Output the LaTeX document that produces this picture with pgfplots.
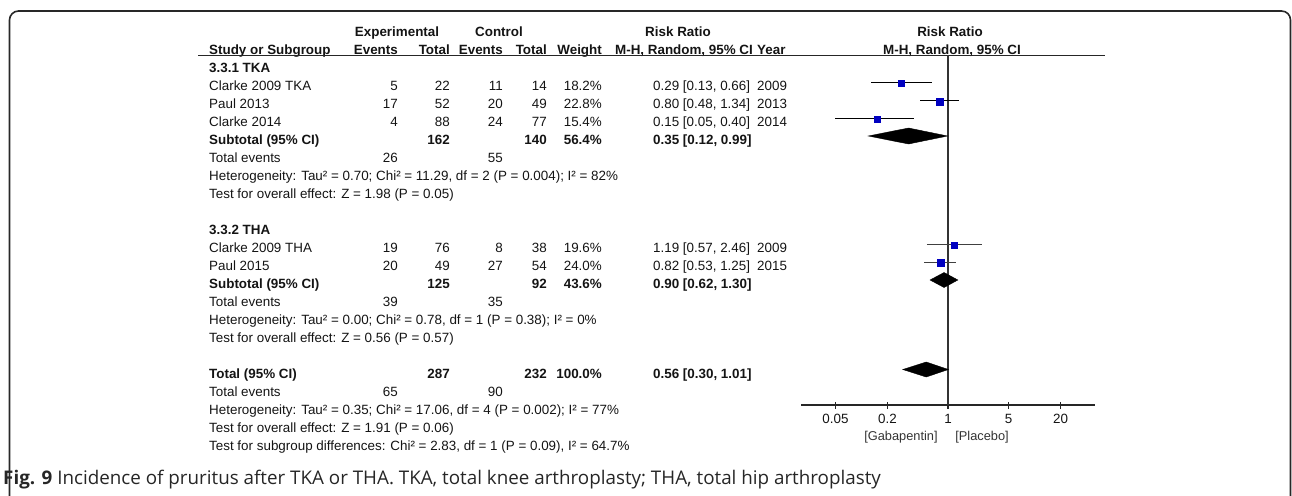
\documentclass[border=0pt]{standalone}
\usepackage{pgfplots}
\pgfplotsset{compat=1.18}
\usepackage{fontspec}
\setmainfont{Liberation Sans}
\newfontfamily\capfont{Open Sans}
\definecolor{sqblue}{RGB}{0,0,192}
\definecolor{framec}{RGB}{40,40,40}
\definecolor{txt}{RGB}{20,20,20}
\newcommand{\bodyfont}{\fontsize{13.4}{15}\selectfont}
\begin{document}
\begin{tikzpicture}[x=1pt,y=-1pt,
  r/.style={anchor=base east,inner sep=0pt,font=\bodyfont,text=txt},
  l/.style={anchor=base west,inner sep=0pt,font=\bodyfont,text=txt},
  c/.style={anchor=base,inner sep=0pt,font=\bodyfont,text=txt},
  rb/.style={r,font=\bodyfont\bfseries},
  lb/.style={l,font=\bodyfont\bfseries},
  cb/.style={c,font=\bodyfont\bfseries}]
\useasboundingbox (0,0) rectangle (1292,495);
% frame
\draw[framec, line width=1.6pt, rounded corners=9pt] (9.5,520) -- (9.5,11) -- (1290.5,11) -- (1290.5,520);
% header
\node[cb] at (397,36.5) {Experimental};
\node[cb] at (499,36.5) {Control};
\node[cb] at (678,36.5) {Risk Ratio};
\node[cb] at (950,36.5) {Risk Ratio};
\node[lb] at (209,54.5) {Study or Subgroup};
\node[rb] at (398,54.5) {Events};
\node[rb] at (450,54.5) {Total};
\node[rb] at (503,54.5) {Events};
\node[rb] at (547,54.5) {Total};
\node[rb] at (602,54.5) {Weight};
\node[cb] at (684,54.5) {M-H, Random, 95\% CI};
\node[lb] at (757,54.5) {Year};
\node[cb] at (952,54.5) {M-H, Random, 95\% CI};
\draw[black!85, line width=1.2pt] (198,55.5) -- (1105,55.5);
% group 1
\node[lb] at (209,72.5) {3.3.1 TKA};
\node[l] at (209,90.5) {Clarke 2009 TKA}; \node[r] at (398,90.5) {5}; \node[r] at (450,90.5) {22}; \node[r] at (503,90.5) {11}; \node[r] at (547,90.5) {14}; \node[r] at (602,90.5) {18.2\%}; \node[l] at (653,90.5) {0.29 [0.13, 0.66]}; \node[l] at (757,90.5) {2009};
\node[l] at (209,108.5) {Paul 2013}; \node[r] at (398,108.5) {17}; \node[r] at (450,108.5) {52}; \node[r] at (503,108.5) {20}; \node[r] at (547,108.5) {49}; \node[r] at (602,108.5) {22.8\%}; \node[l] at (653,108.5) {0.80 [0.48, 1.34]}; \node[l] at (757,108.5) {2013};
\node[l] at (209,126.5) {Clarke 2014}; \node[r] at (398,126.5) {4}; \node[r] at (450,126.5) {88}; \node[r] at (503,126.5) {24}; \node[r] at (547,126.5) {77}; \node[r] at (602,126.5) {15.4\%}; \node[l] at (653,126.5) {0.15 [0.05, 0.40]}; \node[l] at (757,126.5) {2014};
\node[lb] at (209,144.5) {Subtotal (95\% CI)}; \node[rb] at (450,144.5) {162}; \node[rb] at (547,144.5) {140}; \node[rb] at (602,144.5) {56.4\%}; \node[lb] at (653,144.5) {0.35 [0.12, 0.99]};
\node[l] at (209,162.5) {Total events}; \node[r] at (398,162.5) {26}; \node[r] at (503,162.5) {55};
\node[l] at (209,180.5) {Heterogeneity: Tau² = 0.70; Chi² = 11.29, df = 2 (P = 0.004); I² = 82\%};
\node[l] at (209,198.5) {Test for overall effect: Z = 1.98 (P = 0.05)};
% group 2
\node[lb] at (209,234.5) {3.3.2 THA};
\node[l] at (209,252.5) {Clarke 2009 THA}; \node[r] at (398,252.5) {19}; \node[r] at (450,252.5) {76}; \node[r] at (503,252.5) {8}; \node[r] at (547,252.5) {38}; \node[r] at (602,252.5) {19.6\%}; \node[l] at (653,252.5) {1.19 [0.57, 2.46]}; \node[l] at (757,252.5) {2009};
\node[l] at (209,270.5) {Paul 2015}; \node[r] at (398,270.5) {20}; \node[r] at (450,270.5) {49}; \node[r] at (503,270.5) {27}; \node[r] at (547,270.5) {54}; \node[r] at (602,270.5) {24.0\%}; \node[l] at (653,270.5) {0.82 [0.53, 1.25]}; \node[l] at (757,270.5) {2015};
\node[lb] at (209,288.5) {Subtotal (95\% CI)}; \node[rb] at (450,288.5) {125}; \node[rb] at (547,288.5) {92}; \node[rb] at (602,288.5) {43.6\%}; \node[lb] at (653,288.5) {0.90 [0.62, 1.30]};
\node[l] at (209,306.5) {Total events}; \node[r] at (398,306.5) {39}; \node[r] at (503,306.5) {35};
\node[l] at (209,324.5) {Heterogeneity: Tau² = 0.00; Chi² = 0.78, df = 1 (P = 0.38); I² = 0\%};
\node[l] at (209,342.5) {Test for overall effect: Z = 0.56 (P = 0.57)};
% total
\node[lb] at (209,378.5) {Total (95\% CI)}; \node[rb] at (450,378.5) {287}; \node[rb] at (547,378.5) {232}; \node[rb] at (602,378.5) {100.0\%}; \node[lb] at (653,378.5) {0.56 [0.30, 1.01]};
\node[l] at (209,396.5) {Total events}; \node[r] at (398,396.5) {65}; \node[r] at (503,396.5) {90};
\node[l] at (209,414.5) {Heterogeneity: Tau² = 0.35; Chi² = 17.06, df = 4 (P = 0.002); I² = 77\%};
\node[l] at (209,432.5) {Test for overall effect: Z = 1.91 (P = 0.06)};
\node[l] at (209,450.5) {Test for subgroup differences: Chi² = 2.83, df = 1 (P = 0.09), I² = 64.7\%};
% caption
\node[anchor=base west,inner sep=0pt,font=\capfont\fontsize{18.8}{22}\selectfont,text=black!85] at (3,484) {\textbf{Fig. 9} Incidence of pruritus after TKA or THA. TKA, total knee arthroplasty; THA, total hip arthroplasty};
% forest plot
\begin{axis}[at={(801pt,-405pt)}, anchor=south west, scale only axis,
  width=294pt, height=350pt, xmode=log, xmin=0.02, xmax=50, ymin=-405, ymax=-55,
  axis x line*=bottom, hide y axis, clip=false,
  x axis line style={black!85, line width=1.1pt},
  xtick={0.05,0.2,1,5,20}, xticklabels={0.05,0.2,1,5,20},
  xtick align=center, major tick length=7pt,
  xtick style={black!85, line width=1.1pt},
  xticklabel style={font=\bodyfont, text=txt, yshift=-2.5pt},
  minor xtick={}]
\addplot[black!80, line width=1.1pt] coordinates {(1,-55) (1,-405)};
% CI lines
\addplot[black, line width=1pt] coordinates {(0.13,-82) (0.66,-82)};
\addplot[black, line width=1pt] coordinates {(0.48,-100) (1.34,-100)};
\addplot[black, line width=1pt] coordinates {(0.05,-118) (0.40,-118)};
\addplot[black!75, line width=1pt] coordinates {(0.57,-244) (2.46,-244)};
\addplot[black!75, line width=1pt] coordinates {(0.53,-262) (1.25,-262)};
% squares
\addplot[only marks, mark=square*, mark size=3.0, mark options={draw=sqblue, fill=sqblue}] coordinates {(0.29,-83.5)};
\addplot[only marks, mark=square*, mark size=3.6, mark options={draw=sqblue, fill=sqblue}] coordinates {(0.80,-101.5)};
\addplot[only marks, mark=square*, mark size=3.0, mark options={draw=sqblue, fill=sqblue}] coordinates {(0.15,-119.5)};
\addplot[only marks, mark=square*, mark size=3.1, mark options={draw=sqblue, fill=sqblue}] coordinates {(1.19,-245)};
\addplot[only marks, mark=square*, mark size=3.6, mark options={draw=sqblue, fill=sqblue}] coordinates {(0.82,-263)};
% diamonds
\addplot[fill=black, draw=black] coordinates {(0.12,-136) (0.35,-128) (0.99,-136) (0.35,-144)} -- cycle;
\addplot[fill=black, draw=black] coordinates {(0.62,-280) (0.90,-272.5) (1.30,-280) (0.90,-287.5)} -- cycle;
\addplot[fill=black, draw=black] coordinates {(0.30,-369.5) (0.56,-362) (1.01,-369.5) (0.56,-377)} -- cycle;
\end{axis}
\node[c, font=\fontsize{12.8}{15}\selectfont, text=black!80] at (901,440.5) {[Gabapentin]};
\node[c, font=\fontsize{12.8}{15}\selectfont, text=black!80] at (982,440.5) {[Placebo]};
\end{tikzpicture}
\end{document}
